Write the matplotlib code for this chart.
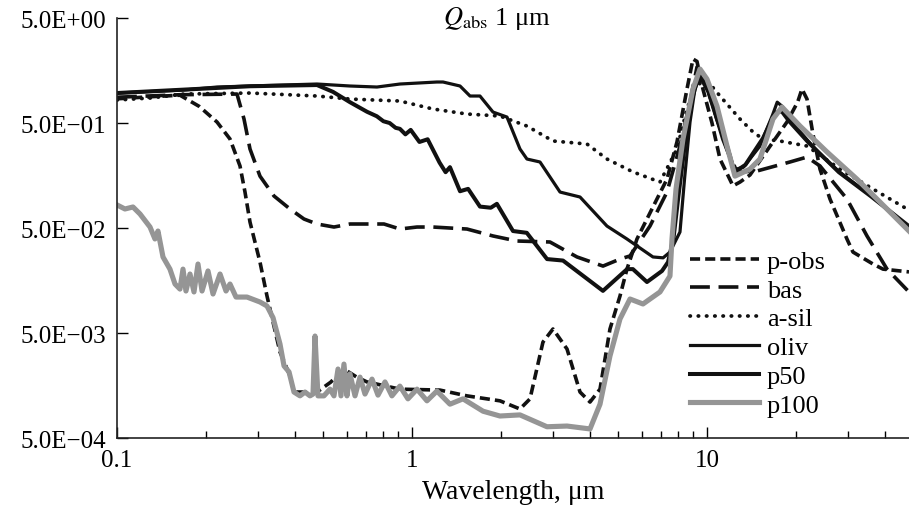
import matplotlib
matplotlib.use("Agg")
import matplotlib.pyplot as plt
from matplotlib.ticker import FixedLocator, NullFormatter

# wavelength (um) and Q_abs
p_obs_wl = [0.1, 0.13, 0.1635, 0.19, 0.2183, 0.2416, 0.2612, 0.2716, 0.2824, 0.3053, 0.3225, 0.3301,
            0.3569, 0.3859, 0.3981, 0.4764, 0.53, 0.588, 0.65, 0.704, 0.91, 1.244, 1.536, 1.987, 2.323,
            2.512, 2.78, 3.006, 3.354, 3.712, 4.013, 4.339, 4.69, 5.071, 5.355, 5.79, 6.768, 7.318,
            7.912, 8.555, 8.966, 9.25, 9.692, 10.4, 11.07, 12.25, 12.94, 13.99, 16.74, 18.67, 20.3,
            20.99, 21.83, 22.87, 24.16, 26.12, 29.82, 31.26, 36.54, 39.51, 48.4]
p_obs_q = [0.85, 0.89, 0.92, 0.72, 0.511, 0.352, 0.195, 0.110, 0.057, 0.0237, 0.01125, 0.00846,
           0.0033, 0.00195, 0.00137, 0.00137, 0.0017, 0.00227, 0.0019, 0.00171, 0.00146, 0.00143,
           0.00126, 0.00113, 0.000945, 0.00118, 0.0041, 0.00546, 0.00352, 0.00137, 0.0011, 0.00146,
           0.00546, 0.01125, 0.0203, 0.0393, 0.0945, 0.146, 0.33, 1.054, 2.034, 1.93, 1.05, 0.5,
           0.227, 0.126, 0.137, 0.16, 0.33, 0.511, 0.793, 1.054, 0.846, 0.393, 0.182, 0.0945,
           0.0393, 0.0295, 0.0227, 0.0203, 0.0191]

bas_wl = [0.1, 0.1635, 0.2552, 0.2695, 0.2824, 0.3053, 0.3406, 0.3859, 0.4305, 0.4764, 0.544, 0.6163,
          0.8037, 0.91, 1.04, 1.178, 1.536, 1.882, 2.269, 2.936, 3.626, 4.442, 5.071, 5.483, 6.409,
          7.318, 8.1, 8.758, 9.25, 9.692, 10.48, 11.69, 12.64, 14.77, 19.11, 21.83, 24.16, 29.82,
          34.87, 40.77, 48.4]
bas_q = [0.88, 0.93, 0.944, 0.546, 0.283, 0.156, 0.1009, 0.0759, 0.0609, 0.0546, 0.0511, 0.0546,
         0.0546, 0.0489, 0.0511, 0.0511, 0.0489, 0.042, 0.0376, 0.0368, 0.0265, 0.0217, 0.0253,
         0.0271, 0.0522, 0.110, 0.302, 0.793, 1.707, 1.465, 0.726, 0.283, 0.171, 0.1745, 0.2127,
         0.237, 0.195, 0.0945, 0.042, 0.0203, 0.0123]

asil_wl = [0.1, 0.1294, 0.1687, 0.2824, 0.4764, 0.6163, 0.91, 1.178, 1.536, 1.987, 2.453, 3.006,
           3.92, 4.581, 5.613, 6.929, 7.912, 8.555, 9.107, 9.692, 10.24, 11.07, 12.94, 14.32, 15.48,
           17.68, 21.83, 28.23, 36.54, 48.4]
asil_q = [0.828, 0.865, 0.944, 0.965, 0.904, 0.846, 0.81, 0.68, 0.609, 0.583, 0.468, 0.337,
          0.3155, 0.227, 0.171, 0.137, 0.283, 0.68, 1.101, 1.25, 1.176, 0.904, 0.546, 0.411, 0.352,
          0.337, 0.302, 0.182, 0.1176, 0.074]

oliv_wl = [0.1, 0.1687, 0.2183, 0.2824, 0.4764, 0.6163, 0.7609, 0.9106, 1.215, 1.274, 1.455, 1.573,
           1.70, 1.882, 2.099, 2.323, 2.453, 2.716, 3.176, 3.712, 4.581, 5.355, 6.56, 7.1, 7.49, 8.1,
           8.4, 8.76, 9.1, 9.47, 9.9, 10.5, 11.3, 12.4, 13.3, 15.1, 16.7, 17.3, 18.0, 20.0, 24.2,
           28.2, 36.5, 48.4]
oliv_q = [0.965, 1.031, 1.101, 1.126, 1.176, 1.126, 1.101, 1.176, 1.229, 1.229, 1.126, 0.904,
          0.904, 0.636, 0.57, 0.283, 0.227, 0.2127, 0.110, 0.0987, 0.0522, 0.0393, 0.0265, 0.026,
          0.0295, 0.0458, 0.15, 0.51, 1.05, 1.40, 1.23, 0.70, 0.35, 0.18, 0.19, 0.30, 0.60, 0.79,
          0.72, 0.46, 0.25, 0.17, 0.098, 0.051]

p50_wl = [0.1, 0.2824, 0.4764, 0.54, 0.616, 0.704, 0.76, 0.80, 0.84, 0.88, 0.91, 0.95, 0.99, 1.06,
          1.13, 1.24, 1.30, 1.345, 1.455, 1.55, 1.70, 1.85, 1.94, 2.20, 2.45, 2.87, 3.25, 4.44,
          5.36, 5.61, 6.26, 7.04, 7.38, 7.7, 8.0, 8.4, 8.8, 9.25, 9.6, 10.1, 10.8, 11.7, 12.4,
          13.5, 15.5, 17.0, 17.9, 19.0, 22.0, 28.0, 36.0, 48.4]
p50_q = [0.965, 1.12, 1.15, 0.99, 0.79, 0.64, 0.58, 0.52, 0.50, 0.45, 0.44, 0.39, 0.43, 0.33,
         0.35, 0.21, 0.17, 0.19, 0.112, 0.118, 0.080, 0.078, 0.085, 0.0468, 0.045, 0.0253, 0.0245,
         0.0126, 0.0203, 0.0203, 0.0153, 0.0195, 0.0237, 0.04, 0.10, 0.30, 0.75, 1.25, 1.30, 1.0,
         0.55, 0.30, 0.17, 0.20, 0.36, 0.62, 0.65, 0.52, 0.33, 0.17, 0.10, 0.052]

p100_wl = [0.1, 0.1064, 0.1133, 0.1197, 0.1294, 0.1345, 0.1377, 0.1432, 0.1512, 0.1573, 0.1635,
           0.1674, 0.1713, 0.1768, 0.1824, 0.1882, 0.1942, 0.2035, 0.2116, 0.2235, 0.2342, 0.2416,
           0.2532, 0.2759, 0.3053, 0.3225, 0.338, 0.3569, 0.3683, 0.383, 0.3981, 0.4172, 0.4339,
           0.4511, 0.4618, 0.4691, 0.4801, 0.503, 0.5272, 0.544, 0.5614, 0.5745, 0.588, 0.602,
           0.6163, 0.641, 0.6665, 0.693, 0.732, 0.767, 0.81, 0.855, 0.91, 0.969, 1.04, 1.124,
           1.215, 1.345, 1.489, 1.741, 1.987, 2.323, 2.868, 3.354, 4.013, 4.339, 4.69, 5.071,
           5.483, 6.068, 6.929, 7.492, 7.61, 7.853, 8.291, 8.966, 9.469, 10.0, 10.81, 11.69, 12.44,
           13.99, 15.12, 16.74, 17.96, 20.67, 25.52, 32.25, 41.73, 48.4]
p100_q = [0.083, 0.0759, 0.0793, 0.068, 0.0511, 0.0393, 0.0468, 0.0265, 0.0203, 0.01464, 0.0131,
          0.0203, 0.01256, 0.01823, 0.0123, 0.0227, 0.01256, 0.0195, 0.01176, 0.01823, 0.01256,
          0.01464, 0.0110, 0.0110, 0.00987, 0.00904, 0.0070, 0.00393, 0.00243, 0.00213, 0.00137,
          0.00126, 0.00137, 0.00126, 0.00131, 0.00468, 0.00126, 0.00126, 0.00146, 0.00126, 0.00227,
          0.00126, 0.00253, 0.00126, 0.00204, 0.00126, 0.0019, 0.00131, 0.00182, 0.00128, 0.00171,
          0.00126, 0.00156, 0.00118, 0.00146, 0.00113, 0.0014, 0.00105, 0.00118, 0.0009, 0.00081,
          0.00083, 0.00064, 0.00065, 0.00061, 0.00105, 0.00302, 0.0068, 0.01054, 0.00945, 0.0123,
          0.01745, 0.0393, 0.1176, 0.352, 1.054, 1.634, 1.31, 0.726, 0.302, 0.156, 0.182, 0.227,
          0.546, 0.71, 0.468, 0.265, 0.146, 0.071, 0.0468]

ytick_vals = [5e-4, 5e-3, 5e-2, 5e-1, 5e0]
ytick_labels = ["5.0E\u221204", "5.0E\u221203", "5.0E\u221202", "5.0E\u221201", "5.0E+00"]

plt.rcParams['font.family'] = ['Liberation Serif', 'DejaVu Serif']
plt.rcParams['mathtext.fontset'] = 'stix'

fig = plt.figure(figsize=(9.09, 5.10), dpi=100)
ax = fig.add_axes([0.1287, 0.1392, 0.8713, 0.8235])

black = '#111111'
ax.plot(p_obs_wl, p_obs_q, color=black, lw=2.6, dashes=(2.8, 1.4), label='p-obs')
ax.plot(bas_wl, bas_q, color=black, lw=2.6, dashes=(5.5, 2.4), label='bas')
ax.plot(asil_wl, asil_q, color=black, lw=2.7, dashes=(0.1, 2.1), dash_capstyle='round', label='a-sil')
ax.plot(oliv_wl, oliv_q, color=black, lw=2.3, label='oliv')
ax.plot(p50_wl, p50_q, color=black, lw=2.9, label='p50')
ax.plot(p100_wl, p100_q, color='#959595', lw=3.7, label='p100')

ax.set_xscale('log')
ax.set_yscale('log')
ax.set_xlim(0.1, 48.4)
ax.set_ylim(5e-4, 5e0)

ax.set_yticks(ytick_vals)
ax.set_yticklabels(ytick_labels)
ax.yaxis.set_minor_locator(FixedLocator([]))
ax.set_xticks([0.1, 1, 10])
ax.set_xticklabels(['0.1', '1', '10'])
ax.xaxis.set_minor_formatter(NullFormatter())

ax.tick_params(axis='both', which='major', direction='in', labelsize=18, length=8, width=1, pad=8)
ax.tick_params(axis='x', which='minor', direction='in', length=5, width=1)
for s in ['top', 'right']:
    ax.spines[s].set_visible(False)
for s in ['left', 'bottom']:
    ax.spines[s].set_linewidth(1.2)
    ax.spines[s].set_color('#222222')

ax.set_xlabel('Wavelength, μm', fontsize=20, labelpad=6)
fig.text(0.547, 0.963, r'$Q_{\mathrm{abs}}$ 1 μm', fontsize=19, ha='center', va='center')

ax.legend(loc='upper left', bbox_to_anchor=(0.745, 0.535), bbox_transform=fig.transFigure,
          frameon=False, fontsize=19, handlelength=2.6, handletextpad=0.3, labelspacing=0.2,
          borderpad=0)

fig.savefig('out.png', dpi=100)
